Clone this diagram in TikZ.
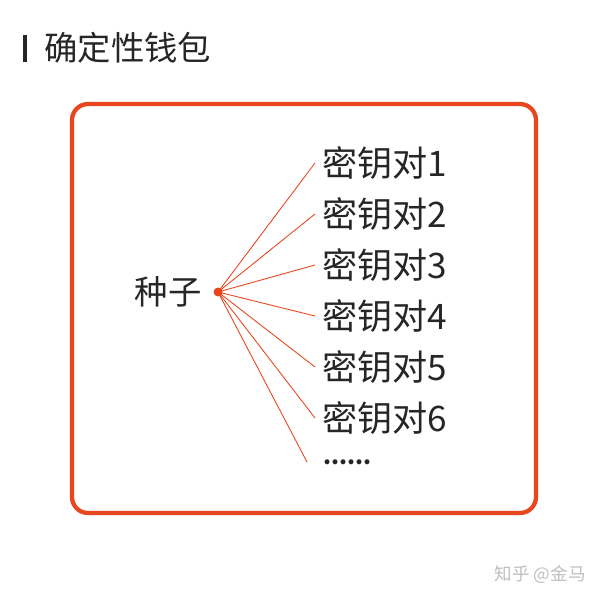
\documentclass[tikz,border=0pt]{standalone}
\usepackage{fontspec}
\setmainfont{Noto Sans CJK SC}
\definecolor{walletred}{HTML}{E8461E}
\definecolor{inkgray}{HTML}{262626}
\tikzset{
  label/.style={inner sep=0pt, text=inkgray, font=\fontsize{19pt}{22pt}\selectfont},
  keylabel/.style={label, font=\fontsize{20pt}{24pt}\selectfont},
  branch/.style={walletred, line width=0.5pt},
}

\begin{document}
\begin{tikzpicture}[x=0.02cm, y=-0.02cm]

    \useasboundingbox (0,0) rectangle (600,600);
    \fill[white] (0,0) rectangle (600,600);

    % title
    \fill[inkgray] (23,35) rectangle (27,62);
    \node[label, anchor=west] (title) at (44,48) {确定性钱包};

    % frame
    \draw[walletred, line width=0.085cm, rounded corners=0.32cm] (72,104) rectangle (536,513);

    % seed
    \node[label, anchor=east] (seed) at (202,292) {种子};
    \fill[walletred] (218,292) circle (4.5) coordinate (root);

    % key pairs
    \foreach \i/\y in {1/163, 2/214, 3/265, 4/316, 5/367, 6/418} {
        \node[keylabel, anchor=west] (key\i) at (322,\y) {密钥对\i};
        \draw[branch] (root) -- ([xshift=-0.14cm]key\i.west);
    }
    \node[keylabel, anchor=base west, font=\bfseries\fontsize{13pt}{16pt}\selectfont] (more) at (323,464) {......};
    \coordinate (moreend) at (307,462);
    \draw[branch] (root) -- (moreend);

    % watermark
    \node[text=black!25, inner sep=0pt, font=\fontsize{10pt}{12pt}\selectfont, anchor=east] (mark) at (586,575) {知乎 @金马};
\end{tikzpicture}
\end{document}
